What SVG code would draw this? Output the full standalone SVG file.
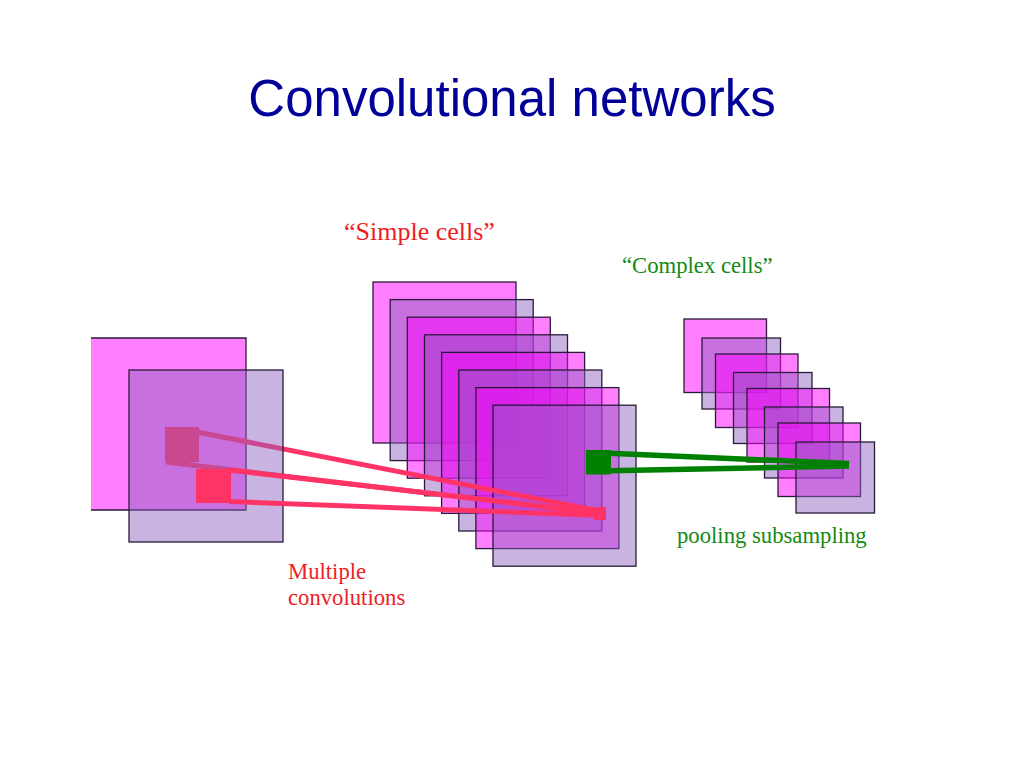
<svg xmlns="http://www.w3.org/2000/svg" width="1024" height="768" viewBox="0 0 1024 768">
<style>
.pk{fill:rgba(255,0,255,0.5);stroke:#2a1a3a;stroke-width:1.3}
.lv{fill:rgba(140,96,192,0.47);stroke:#2a1a3a;stroke-width:1.3}
.rl{stroke:#FF3366;stroke-width:5;fill:none;stroke-linecap:butt}
.gl{stroke:#008000;stroke-width:5.5;fill:none}
.title{font-family:"Liberation Sans",Arial,sans-serif;font-size:51px;fill:#000099}
.lbl{font-family:"Liberation Serif","Times New Roman",serif;font-size:22.7px}
.red{fill:#EE1C25}
.grn{fill:#138A13}
</style>
<rect width="1024" height="768" fill="#ffffff"/>
<text class="title" x="512" y="116" text-anchor="middle">Convolutional networks</text>

<g id="simple-cells">
<rect class="pk" x="373" y="282" width="143" height="161"/>
<rect class="lv" x="390.2" y="299.6" width="143" height="161"/>
<rect class="pk" x="407.3" y="317.2" width="143" height="161"/>
<rect class="lv" x="424.5" y="334.8" width="143" height="161"/>
<rect class="pk" x="441.6" y="352.4" width="143" height="161"/>
<rect class="lv" x="458.8" y="370" width="143" height="161"/>
<rect class="pk" x="475.9" y="387.6" width="143" height="161"/>
<rect class="lv" x="493" y="405.2" width="143" height="161"/>
</g>

<g id="complex-cells">
<rect class="pk" x="684" y="319" width="82.5" height="73.5"/>
<rect class="lv" x="702" y="338" width="78.5" height="71"/>
<rect class="pk" x="715.5" y="354" width="82.5" height="73.5"/>
<rect class="lv" x="733.5" y="372.5" width="78.5" height="71"/>
<rect class="pk" x="747" y="388.5" width="82.5" height="73.5"/>
<rect class="lv" x="764.5" y="407" width="78.5" height="71"/>
<rect class="pk" x="778" y="423" width="82.5" height="73.5"/>
<rect class="lv" x="796" y="442" width="78.5" height="71"/>
</g>

<g id="input-map-1">
<rect x="91" y="338" width="155" height="172" fill="rgba(255,0,255,0.5)"/>
<path d="M91 338H246V510H91" fill="none" stroke="#2a1a3a" stroke-width="1.3"/>
</g>

<g id="kernel-1">
<rect x="165" y="427" width="34" height="35" fill="#FF3366"/>
</g>

<g id="connectors-back">
<line class="rl" x1="197" y1="432" x2="604" y2="512"/>
<line class="rl" x1="166" y1="462" x2="604" y2="514"/>
</g>

<g id="input-map-2">
<rect class="lv" x="129" y="370" width="154" height="172"/>
</g>

<g id="kernel-2">
<rect x="196" y="469" width="35" height="34" fill="#FF3366"/>
</g>

<g id="connectors">
<line class="rl" x1="229" y1="470" x2="604" y2="513.5"/>
<line class="rl" x1="229" y1="501.5" x2="604" y2="515.5"/>
<rect x="594" y="507" width="12" height="13" fill="#FF3366"/>
<rect x="586" y="450" width="25" height="24.5" fill="#008000"/>
<line class="gl" x1="609" y1="453.3" x2="849" y2="463.5"/>
<line class="gl" x1="609" y1="470.8" x2="849" y2="466"/>
</g>

<g id="labels">
<text class="lbl red" x="344" y="240" style="font-size:26px">“Simple cells”</text>
<text class="lbl grn" x="622" y="273">“Complex cells”</text>
<text class="lbl grn" x="677" y="543">pooling subsampling</text>
<text class="lbl red" x="288" y="579">Multiple</text>
<text class="lbl red" x="288" y="605">convolutions</text>
</g>
</svg>
